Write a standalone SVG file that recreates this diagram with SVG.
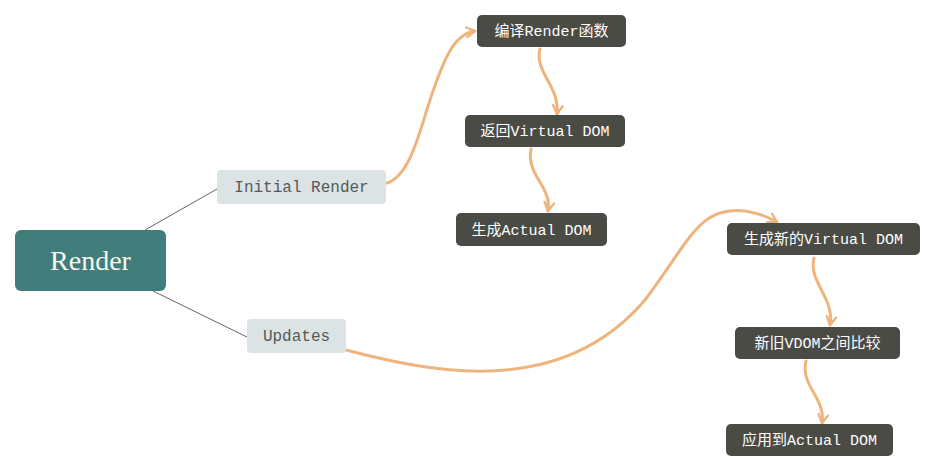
<svg xmlns="http://www.w3.org/2000/svg" width="937" height="476" viewBox="0 0 937 476">
<style>
.root{fill:#417d7b}
.sub{fill:#dce3e5}
.dark{fill:#4b4b46}
.t-root{font-family:"Liberation Serif","Noto Sans CJK SC",serif;font-size:28px;fill:#f4f8ee}
.t-sub{font-family:"Liberation Mono","Noto Sans CJK SC",monospace;font-size:16px;fill:#555a58}
.t-dark{font-family:"Liberation Mono","Noto Sans CJK SC",monospace;font-size:15px;fill:#ffffff}
.thin{fill:none;stroke:#666;stroke-width:1}
.flow{fill:none;stroke:#efb47c;stroke-width:3;stroke-linecap:round;marker-end:url(#arr)}
</style>
<defs>
<marker id="arr" viewBox="0 0 10 10" refX="8" refY="5" markerWidth="4" markerHeight="4" orient="auto" markerUnits="strokeWidth">
<path d="M1,1 L8,5 L1,9" fill="none" stroke="#efb47c" stroke-width="2" stroke-linecap="round" stroke-linejoin="round"/>
</marker>
</defs>
<rect width="937" height="476" fill="#ffffff"/>
<g id="connectors">
<line class="thin" x1="145" y1="230" x2="217" y2="189"/>
<line class="thin" x1="153" y1="291" x2="247" y2="337"/>
<path class="flow" d="M387,183 C410,176 420,130 430,100 C445,55 455,34 475,31"/>
<path class="flow" d="M540,49 C534,72 560,86 557,114"/>
<path class="flow" d="M531,149 C526,176 552,186 548,211"/>
<path class="flow" d="M346,350 C430,372 560,400 645,300 C690,240 700,205 745,211 C758,213 768,217 777,222"/>
<path class="flow" d="M814,258 C808,282 835,298 830,325"/>
<path class="flow" d="M806,361 C800,386 826,398 822,423"/>
</g>
<g id="n-render">
<rect class="root" x="15" y="230" width="151" height="61" rx="6"/>
<text class="t-root" x="90.5" y="270" text-anchor="middle">Render</text>
</g>
<g id="n-initial">
<rect class="sub" x="217" y="170" width="169" height="34" rx="4"/>
<text class="t-sub" x="301.5" y="192" text-anchor="middle">Initial Render</text>
</g>
<g id="n-updates">
<rect class="sub" x="247" y="319" width="99" height="34" rx="4"/>
<text class="t-sub" x="296.5" y="341" text-anchor="middle">Updates</text>
</g>
<g id="n-compile">
<rect class="dark" x="477" y="15" width="149" height="32" rx="5"/>
<text class="t-dark" x="551.5" y="36" text-anchor="middle">编译Render函数</text>
</g>
<g id="n-return">
<rect class="dark" x="465" y="115" width="160" height="32" rx="5"/>
<text class="t-dark" x="545" y="136" text-anchor="middle">返回Virtual DOM</text>
</g>
<g id="n-gen-actual">
<rect class="dark" x="456" y="213" width="151" height="33" rx="5"/>
<text class="t-dark" x="531.5" y="235" text-anchor="middle">生成Actual DOM</text>
</g>
<g id="n-gen-new">
<rect class="dark" x="727" y="223" width="193" height="32" rx="5"/>
<text class="t-dark" x="823.5" y="244" text-anchor="middle">生成新的Virtual DOM</text>
</g>
<g id="n-compare">
<rect class="dark" x="735" y="327" width="165" height="32" rx="5"/>
<text class="t-dark" x="817.5" y="348" text-anchor="middle">新旧VDOM之间比较</text>
</g>
<g id="n-apply">
<rect class="dark" x="726" y="424" width="167" height="32" rx="5"/>
<text class="t-dark" x="809.5" y="445" text-anchor="middle">应用到Actual DOM</text>
</g>
</svg>
